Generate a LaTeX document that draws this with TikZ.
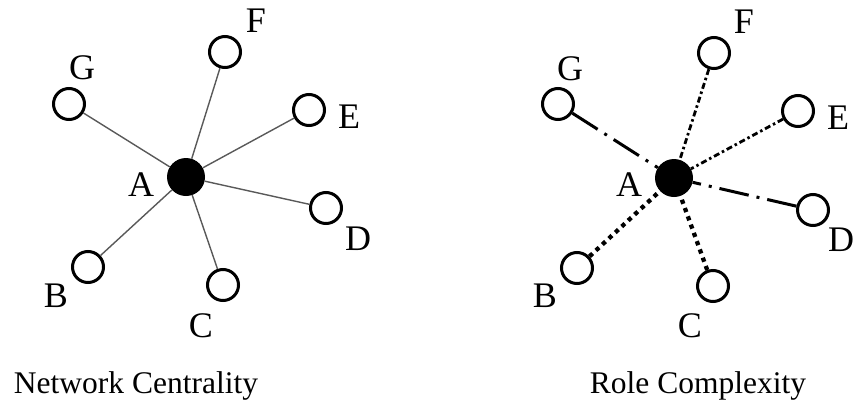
\documentclass[tikz,border=0pt]{standalone}
\usepackage{fontspec}
\setmainfont{Liberation Serif}
\begin{document}
\begin{tikzpicture}[x=1pt,y=-1pt,
  leaf/.style={circle,draw=black,line width=3pt,fill=white,minimum size=31pt,inner sep=0pt},
  hub/.style={circle,fill=black,minimum size=38pt,inner sep=0pt},
  lbl/.style={font=\fontsize{36}{40}\selectfont,inner sep=0pt,anchor=center},
  ttl/.style={font=\fontsize{31.5}{36}\selectfont,inner sep=0pt,anchor=base},
  plainedge/.style={draw=black!65,line width=1.4pt},
  longdd/.style={draw=black,line width=3pt,dash pattern=on 30pt off 8pt on 3pt off 8pt},
  shortdd/.style={draw=black,line width=2.8pt,dash pattern=on 6pt off 3pt on 2.5pt off 3pt},
  sqdot/.style={draw=black,line width=4.3pt,dash pattern=on 4.3pt off 4.5pt}]
\useasboundingbox (0,0) rectangle (855,405);
% ---------- left: Network Centrality ----------
\node[hub] (A1) at (186,177) {};
\node[leaf] (F1) at (225,52) {};
\node[leaf] (G1) at (69,104) {};
\node[leaf] (E1) at (309,110) {};
\node[leaf] (D1) at (326,208) {};
\node[leaf] (B1) at (88,267) {};
\node[leaf] (C1) at (223,285) {};
\foreach \n in {F1,G1,E1,D1,B1,C1} \draw[plainedge] (A1) -- (\n);
\node[lbl] (lA1) at (141,185) {A};
\node[lbl] (lF1) at (256,21) {F};
\node[lbl] (lG1) at (82,68) {G};
\node[lbl] (lE1) at (349,117) {E};
\node[lbl] (lD1) at (358,239) {D};
\node[lbl] (lB1) at (56,296) {B};
\node[lbl] (lC1) at (201,326) {C};
\node[ttl] (t1) at (136,393) {Network Centrality};
% ---------- right: Role Complexity ----------
\node[hub] (A2) at (674,178) {};
\node[leaf] (F2) at (714,53) {};
\node[leaf] (G2) at (558,104) {};
\node[leaf] (E2) at (798,111) {};
\node[leaf] (D2) at (813,210) {};
\node[leaf] (B2) at (577,268) {};
\node[leaf] (C2) at (713,286) {};
\draw[longdd] (G2) -- (A2);
\draw[longdd] (D2) -- (A2);
\draw[shortdd] (F2) -- (A2);
\draw[shortdd] (E2) -- (A2);
\draw[sqdot] (B2) -- (A2);
\draw[sqdot] (C2) -- (A2);
\node[lbl] (lA2) at (629,185) {A};
\node[lbl] (lF2) at (744,22) {F};
\node[lbl] (lG2) at (570,69) {G};
\node[lbl] (lE2) at (838,118) {E};
\node[lbl] (lD2) at (841,240) {D};
\node[lbl] (lB2) at (545,296) {B};
\node[lbl] (lC2) at (690,326) {C};
\node[ttl] (t2) at (698,393) {Role Complexity};
\end{tikzpicture}
\end{document}
